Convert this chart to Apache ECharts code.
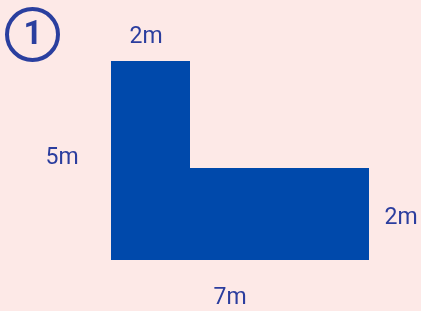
<!DOCTYPE html>
<html><head><meta charset="utf-8">
<script src="https://cdn.jsdelivr.net/npm/echarts@6/dist/echarts.min.js"></script>
<style>html,body{margin:0;padding:0;background:#fde9e7;}#c{width:421px;height:311px;}</style>
</head><body><div id="c"></div>
<script>
// L-shape outline vertices (drawing units, not to scale)
var shapeX = [0, 0, 79, 79, 258, 258];
var shapeY = [0, 199, 199, 92, 92, 0];
// dimension labels
var dimLabels = ['2m', '5m', '2m', '7m'];
var problemNumber = '1';

var chart = echarts.init(document.getElementById('c'), null, {renderer: 'canvas'});
var pts = shapeX.map(function (x, i) { return [x, shapeY[i]]; });
var txtColor = '#2b3d9e';
var font = 'Roboto, "Open Sans", sans-serif';
var lab = function (t, x, y) {
  return {type: 'text', x: x, y: y, style: {text: t, fill: txtColor, font: '400 23px ' + font, align: 'center', verticalAlign: 'middle'}};
};
chart.setOption({
  backgroundColor: '#fde9e7',
  animation: false,
  grid: {left: 111, top: 61, width: 258, height: 199},
  xAxis: {type: 'value', min: 0, max: 258, show: false},
  yAxis: {type: 'value', min: 0, max: 199, show: false},
  series: [{
    type: 'custom',
    coordinateSystem: 'cartesian2d',
    data: [0],
    renderItem: function (params, api) {
      var p = pts.map(function (d) { return api.coord(d); });
      return {type: 'polygon', shape: {points: p}, style: {fill: '#0049ab'}};
    }
  }],
  graphic: [
    {type: 'circle', shape: {cx: 32.5, cy: 34.5, r: 25.5}, style: {fill: 'none', stroke: '#2a3f9f', lineWidth: 4}},
    {type: 'text', x: 33, y: 36, style: {text: problemNumber, fill: '#2a3f9f', font: 'bold 33px ' + font, align: 'center', verticalAlign: 'middle'}},
    lab(dimLabels[0], 146, 37),
    lab(dimLabels[1], 62, 158),
    lab(dimLabels[2], 401, 218),
    lab(dimLabels[3], 230, 298)
  ]
});
</script></body></html>
